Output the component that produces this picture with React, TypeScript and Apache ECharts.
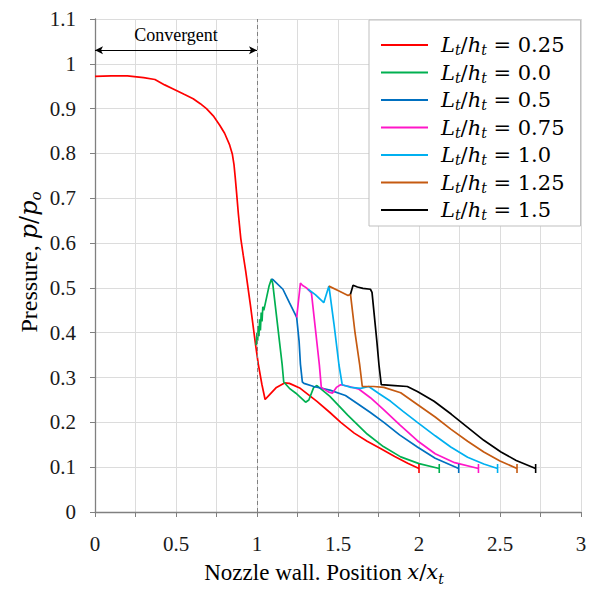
import React, { useEffect, useRef } from "react";
import * as echarts from "echarts";

const ratios = ["0.25", "0.0", "0.5", "0.75", "1.0", "1.25", "1.5"];
const colors = ["#ff0000", "#00b050", "#0070c0", "#ff16c8", "#00b0f0", "#c55a11", "#000000"];

const xTicks = [0, 0.5, 1, 1.5, 2, 2.5, 3];

const redLine: number[][] = [
  [0, 0.972], [0.1, 0.973], [0.2, 0.973], [0.3, 0.969], [0.37, 0.965], [0.43, 0.953],
  [0.483, 0.944], [0.55, 0.932], [0.606, 0.922], [0.65, 0.911], [0.688, 0.9], [0.73, 0.884],
  [0.77, 0.863], [0.8, 0.845], [0.831, 0.819], [0.848, 0.798], [0.858, 0.775], [0.866, 0.745],
  [0.874, 0.712], [0.885, 0.665], [0.9, 0.61], [0.915, 0.573], [0.93, 0.538], [0.96, 0.46],
  [0.99, 0.376], [1.008, 0.33], [1.03, 0.285], [1.05, 0.251], [1.078, 0.262], [1.12, 0.278],
  [1.17, 0.288], [1.2, 0.287], [1.267, 0.276], [1.37, 0.247], [1.45, 0.222], [1.517, 0.2],
  [1.6, 0.176], [1.68, 0.158], [1.765, 0.141], [1.85, 0.124], [1.93, 0.109], [2.0, 0.097],
];
const greenLine: number[][] = [
  [0.995, 0.372], [1.0, 0.4], [1.004, 0.382], [1.008, 0.415], [1.012, 0.392], [1.016, 0.43],
  [1.021, 0.405], [1.026, 0.445], [1.031, 0.425], [1.036, 0.458], [1.042, 0.45], [1.06, 0.48],
  [1.075, 0.505], [1.089, 0.52], [1.097, 0.51], [1.155, 0.33], [1.165, 0.29], [1.2, 0.276],
  [1.24, 0.265], [1.28, 0.252], [1.3, 0.245], [1.32, 0.25], [1.35, 0.278], [1.37, 0.282],
  [1.45, 0.258], [1.56, 0.216], [1.68, 0.174], [1.78, 0.146], [1.887, 0.123], [2.0, 0.108],
  [2.125, 0.097],
];
const blueLine: number[][] = [
  [1.089, 0.52], [1.1, 0.518], [1.16, 0.497], [1.2, 0.467], [1.236, 0.441], [1.245, 0.434],
  [1.26, 0.38], [1.268, 0.33], [1.28, 0.29], [1.29, 0.287], [1.35, 0.28], [1.45, 0.272],
  [1.546, 0.26], [1.628, 0.24], [1.7, 0.222], [1.783, 0.2], [1.88, 0.172], [1.99, 0.145],
  [2.1, 0.12], [2.245, 0.097],
];
const magentaLine: number[][] = [
  [1.245, 0.434], [1.268, 0.511], [1.28, 0.506], [1.305, 0.5], [1.336, 0.489], [1.36, 0.41],
  [1.385, 0.328], [1.397, 0.278], [1.44, 0.268], [1.465, 0.265], [1.49, 0.278], [1.516, 0.284],
  [1.57, 0.28], [1.63, 0.274], [1.7, 0.255], [1.78, 0.229], [1.88, 0.195], [1.99, 0.159],
  [2.1, 0.13], [2.22, 0.11], [2.367, 0.097],
];
const cyanLine: number[][] = [
  [1.315, 0.497], [1.36, 0.485], [1.412, 0.467], [1.444, 0.504], [1.475, 0.42], [1.506, 0.328],
  [1.526, 0.284], [1.58, 0.278], [1.64, 0.276], [1.69, 0.28], [1.75, 0.265], [1.825, 0.247],
  [1.9, 0.225], [1.99, 0.2], [2.1, 0.17], [2.196, 0.145], [2.3, 0.122], [2.4, 0.107],
  [2.485, 0.097],
];
const orangeLine: number[][] = [
  [1.444, 0.504], [1.5, 0.494], [1.562, 0.483], [1.577, 0.486], [1.605, 0.4], [1.634, 0.328],
  [1.65, 0.28], [1.72, 0.28], [1.783, 0.278], [1.887, 0.266], [1.99, 0.24], [2.1, 0.212],
  [2.196, 0.185], [2.3, 0.158], [2.4, 0.134], [2.5, 0.114], [2.605, 0.097],
];
const blackLine: number[][] = [
  [1.577, 0.486], [1.593, 0.506], [1.62, 0.502], [1.654, 0.499], [1.7, 0.497], [1.71, 0.49],
  [1.74, 0.38], [1.753, 0.328], [1.767, 0.284], [1.85, 0.282], [1.928, 0.28], [1.99, 0.269],
  [2.093, 0.247], [2.2, 0.218], [2.3, 0.189], [2.4, 0.16], [2.506, 0.134], [2.6, 0.115],
  [2.72, 0.097],
];

const seriesData = [redLine, greenLine, blueLine, magentaLine, cyanLine, orangeLine, blackLine];

const serif = "Liberation Serif";
const mathFont = "DejaVu Serif";

function withEndTick(d: number[][]) {
  return d.map((p, i) =>
    i === d.length - 1
      ? { value: p, symbol: "rect", symbolSize: [1.6, 9] }
      : { value: p }
  );
}

export default function App() {
  const ref = useRef<HTMLDivElement>(null);
  useEffect(() => {
    if (!ref.current) return;
    const chart = echarts.init(ref.current, undefined, { renderer: "svg" });

    const series: any[] = seriesData.map((d, i) => ({
      name: ratios[i],
      type: "line",
      data: withEndTick(d),
      symbol: "none",
      color: colors[i],
      lineStyle: { width: 1.7, color: colors[i] },
      itemStyle: { color: colors[i] },
      z: 3,
    }));

    series[0].markLine = {
      silent: true,
      symbol: "none",
      animation: false,
      data: [
        {
          xAxis: 1,
          lineStyle: { type: [4, 3], color: "#808080", width: 1 },
          label: { show: false },
        },
        [
          { coord: [0, 1.03], symbol: "arrow", symbolSize: [6, 8] },
          { coord: [1, 1.03], symbol: "arrow", symbolSize: [6, 8] },
        ],
      ],
      lineStyle: { type: "solid", color: "#000", width: 1 },
      label: {
        show: true,
        formatter: "Convergent",
        position: "insideMiddleTop",
        distance: 6,
        fontFamily: serif,
        fontSize: 18,
        color: "#000",
      },
    };

    const legendRich = {
      i: { fontFamily: mathFont, fontStyle: "italic", fontSize: 21, lineHeight: 24, color: "#000" },
      s: { fontFamily: mathFont, fontStyle: "italic", fontSize: 14, lineHeight: 14, verticalAlign: "bottom", color: "#000" },
      n: { fontFamily: mathFont, fontSize: 21, lineHeight: 24, color: "#000" },
    };

    chart.setOption({
      animation: false,
      backgroundColor: "#fff",
      grid: { left: 95, right: 16, top: 19, bottom: 72, containLabel: false },
      legend: {
        data: ratios,
        orient: "vertical",
        left: 369,
        top: 20,
        padding: [13, 16, 4, 12],
        itemGap: 3.5,
        itemWidth: 47,
        itemHeight: 14,
        icon: "path://M0,0 L47,0 L47,1.8 L0,1.8 Z",
        backgroundColor: "#fff",
        borderColor: "#bfbfbf",
        borderWidth: 1,
        formatter: (name: string) => `{i|L}{s|t}{n|/}{i|h}{s|t}{n| = ${name}}`,
        textStyle: { rich: legendRich, lineHeight: 24, padding: [0, 0, 0, 8] },
      },
      xAxis: {
        type: "value",
        min: 0,
        max: 3,
        interval: 0.25,
        name: "{r|Nozzle wall. Position }{i|x}{n|/}{i|x}{s|t}",
        nameLocation: "middle",
        nameGap: 46,
        nameTextStyle: {
          padding: [0, 28, 0, 0],
          rich: {
            r: { fontFamily: serif, fontSize: 23, color: "#000", lineHeight: 28 },
            i: { fontFamily: mathFont, fontStyle: "italic", fontSize: 21, color: "#000", lineHeight: 28 },
            n: { fontFamily: mathFont, fontSize: 21, color: "#000", lineHeight: 28 },
            s: { fontFamily: mathFont, fontStyle: "italic", fontSize: 14, color: "#000", lineHeight: 14, verticalAlign: "bottom" },
          },
        },
        axisLine: { show: true, lineStyle: { color: "#808080", width: 1.3 } },
        axisTick: { show: true, length: 5, lineStyle: { color: "#808080" } },
        axisLabel: {
          margin: 21,
          fontFamily: serif,
          fontSize: 21,
          color: "#1a1a1a",
          formatter: (v: number) => {
            const t = xTicks.find((k) => Math.abs(k - v) < 1e-9);
            return t === undefined ? "" : String(t);
          },
        },
        splitLine: { show: true, lineStyle: { color: "#dcdcdc", width: 1 } },
      },
      yAxis: {
        type: "value",
        min: 0,
        max: 1.1,
        interval: 0.1,
        axisLine: { show: true, lineStyle: { color: "#808080", width: 1.3 } },
        axisTick: { show: true, length: 5, lineStyle: { color: "#808080" } },
        axisLabel: {
          margin: 19,
          fontFamily: serif,
          fontSize: 21,
          color: "#1a1a1a",
          formatter: (v: number) => String(Math.round(v * 10) / 10),
        },
        splitLine: { show: true, lineStyle: { color: "#dcdcdc", width: 1 } },
      },
      graphic: [
        {
          type: "text",
          x: 29,
          y: 262,
          rotation: Math.PI / 2,
          style: {
            text: "{r|Pressure, }{i|p}{n|/}{i|p}{s|o}",
            align: "center",
            verticalAlign: "middle",
            rich: {
              r: { fontFamily: serif, fontSize: 24, fill: "#000", lineHeight: 28 },
              i: { fontFamily: mathFont, fontStyle: "italic", fontSize: 24, fill: "#000", lineHeight: 28 },
              n: { fontFamily: mathFont, fontSize: 24, fill: "#000", lineHeight: 28 },
              s: { fontFamily: mathFont, fontStyle: "italic", fontSize: 15, fill: "#000", lineHeight: 15, verticalAlign: "bottom" },
            },
          },
        },
      ],
      series,
    });
    return () => chart.dispose();
  }, []);
  return <div ref={ref} style={{ width: 597, height: 591, position: "absolute", left: 0, top: 0 }} />;
}
